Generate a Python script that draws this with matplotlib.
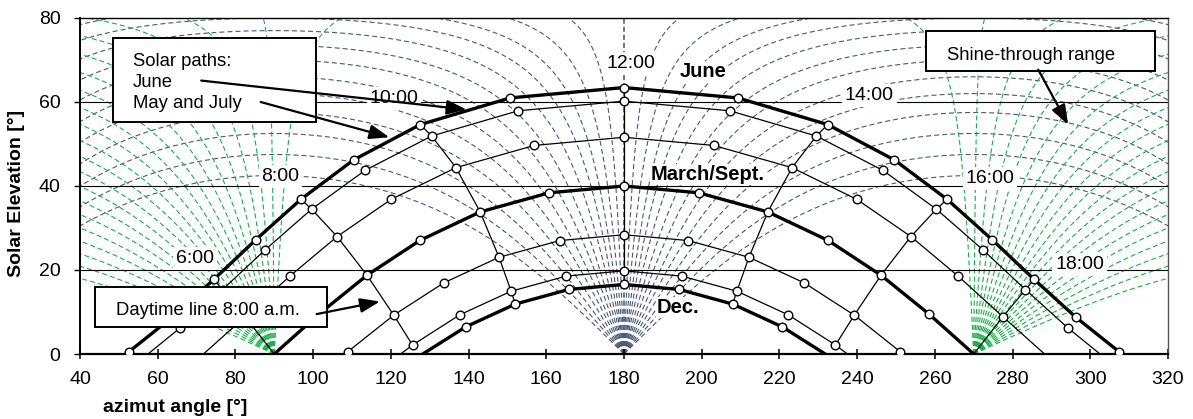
import numpy as np
import matplotlib
matplotlib.use('Agg')
import matplotlib.pyplot as plt
from matplotlib.patches import Rectangle

plt.rcParams['font.family'] = ['Liberation Sans', 'DejaVu Sans']
plt.rcParams['lines.scale_dashes'] = False

# ---------------- data: solar paths (hourly points, solar time) ----------------
june_hours = [4, 5, 6, 7, 8, 9, 10, 11, 12, 13, 14, 15, 16, 17, 18, 19, 20]
june_az = [52.62, 63.72, 74.43, 85.24, 96.87, 110.40, 127.58, 150.69, 180.0,
           209.31, 232.42, 249.60, 263.13, 274.76, 285.57, 296.28, 307.38]
june_el = [0.56, 8.75, 17.74, 27.21, 36.84, 46.20, 54.63, 60.97, 63.44,
           60.97, 54.63, 46.20, 36.84, 27.21, 17.74, 8.75, 0.56]
june_rise_set = [51.77, 308.23]

may_hours = [5, 6, 7, 8, 9, 10, 11, 12, 13, 14, 15, 16, 17, 18, 19]
may_az = [65.77, 76.69, 87.73, 99.60, 113.34, 130.49, 152.79, 180.0,
          207.21, 229.51, 246.66, 260.40, 272.27, 283.31, 294.23]
may_el = [6.22, 15.34, 24.88, 34.48, 43.71, 51.90, 57.91, 60.20,
          57.91, 51.90, 43.71, 34.48, 24.88, 15.34, 6.22]
may_rise_set = [57.50, 302.50]

apr_hours = [6, 7, 8, 9, 10, 11, 12, 13, 14, 15, 16, 17, 18]
apr_az = [82.48, 93.93, 106.17, 120.09, 136.75, 156.93, 180.0,
          203.07, 223.25, 239.91, 253.83, 266.07, 277.52]
apr_el = [8.86, 18.48, 27.96, 36.82, 44.37, 49.66, 51.60,
          49.66, 44.37, 36.82, 27.96, 18.48, 8.86]
apr_rise_set = [71.77, 288.23]

mar_hours = [6, 7, 8, 9, 10, 11, 12, 13, 14, 15, 16, 17, 18]
mar_az = [90.0, 101.60, 113.86, 127.45, 142.99, 160.73, 180.0,
          199.27, 217.01, 232.55, 246.14, 258.40, 270.0]
mar_el = [0.0, 9.58, 18.75, 27.03, 33.83, 38.38, 40.00,
          38.38, 33.83, 27.03, 18.75, 9.58, 0.0]
mar_rise_set = [90.0, 270.0]

feb_hours = [7, 8, 9, 10, 11, 12, 13, 14, 15, 16, 17]
feb_az = [108.87, 120.74, 133.61, 147.84, 163.47, 180.0,
          196.53, 212.16, 226.39, 239.26, 251.13]
feb_el = [0.51, 9.25, 16.93, 23.03, 27.01, 28.40,
          27.01, 23.03, 16.93, 9.25, 0.51]
feb_rise_set = [108.23, 251.77]

jan_hours = [8, 9, 10, 11, 12, 13, 14, 15, 16]
jan_az = [125.58, 137.74, 150.95, 165.16, 180.0, 194.84, 209.05, 222.26, 234.42]
jan_el = [2.13, 9.33, 14.95, 18.55, 19.80, 18.55, 14.95, 9.33, 2.13]
jan_rise_set = [122.50, 237.50]

dec_hours = [9, 10, 11, 12, 13, 14, 15]
dec_az = [139.24, 152.04, 165.74, 180.0, 194.26, 207.96, 220.76]
dec_el = [6.45, 11.89, 15.36, 16.56, 15.36, 11.89, 6.45]
dec_rise_set = [128.23, 231.77]

# daytime lines drawn for these hours
daytime_hours = [6, 8, 10, 12, 14, 16, 18]
daytime_labels = ['6:00', '8:00', '10:00', '12:00', '14:00', '16:00', '18:00']

# background construction lines (tilt angles of the great circles, deg)
blue_tilts = [42.5, 47.5, 52.5, 57.5, 62, 66, 70, 73.5, 77, 80, 82.5, 85,
              87.5, 90]
green_tilts = [23, 26.5, 30, 33.5, 37, 40.5, 44, 47.5, 51, 54.5, 58, 61.5,
               65, 68.5, 72, 75.5, 79, 82.5, 86, 89.5, 93]

# ---------------- figure ----------------
W, H = 1193, 419
fig = plt.figure(figsize=(W / 100, H / 100), dpi=100)
ax = fig.add_axes([80 / W, 1 - 354 / H, (1168 - 80) / W, (354 - 18) / H])
ax.set_xlim(40, 320)
ax.set_ylim(0, 80)

BLUE = '#4a5874'
GREEN = '#14b04a'
DASH = (0, (3.6, 2.2))


def leading_block(az, el):
    ok = (az >= 30) & (az <= 330)
    if not ok[0]:
        return az[:0], el[:0]
    bad = np.where(~ok)[0]
    n = bad[0] if len(bad) else len(az)
    return az[:n], el[:n]


# blue family: great circles through the south point (180, 0)
s = np.radians(np.linspace(0, 180, 2500))
for t in blue_tilts:
    tr = np.radians(t)
    x = np.cos(tr) * np.sin(s)
    y = -np.cos(s)
    z = np.sin(tr) * np.sin(s)
    el = np.degrees(np.arcsin(np.clip(z, -1, 1)))
    az_e = np.degrees(np.arctan2(x, y)) % 360
    for az in (az_e, 360 - az_e):
        a, e = leading_block(az, el)
        ax.plot(a, e, color=BLUE, lw=0.8, ls=DASH, zorder=1)

# green family: great circles through east (90,0) and west (270,0)
s2 = np.radians(np.linspace(0, 90, 1500))
for th in green_tilts:
    tr = np.radians(th)
    y = np.cos(tr) * np.sin(s2)
    z = np.sin(tr) * np.sin(s2)
    el = np.degrees(np.arcsin(np.clip(z, -1, 1)))
    for sign in (1, -1):
        x = sign * np.cos(s2)
        az = np.degrees(np.arctan2(x, y)) % 360
        a, e = leading_block(az, el)
        ax.plot(a, e, color=GREEN, lw=0.8, ls=DASH, zorder=1)

# horizontal grid lines
for g in (20, 40, 60):
    ax.axhline(g, color='black', lw=0.8, zorder=1.5)

paths = [
    (june_hours, june_az, june_el, june_rise_set, 2.4),
    (may_hours, may_az, may_el, may_rise_set, 0.9),
    (apr_hours, apr_az, apr_el, apr_rise_set, 0.9),
    (mar_hours, mar_az, mar_el, mar_rise_set, 2.4),
    (feb_hours, feb_az, feb_el, feb_rise_set, 0.9),
    (jan_hours, jan_az, jan_el, jan_rise_set, 0.9),
    (dec_hours, dec_az, dec_el, dec_rise_set, 2.4),
]

# daytime lines
for hr in daytime_hours:
    pa, pe = [], []
    for hours, az, el, rs, lw in paths:
        if hr in hours:
            i = hours.index(hr)
            pa.append(az[i])
            pe.append(el[i])
    ax.plot(pa, pe, color='black', lw=0.9, zorder=2, solid_capstyle='butt')

# solar paths
for hours, az, el, rs, lw in paths:
    xs = [rs[0]] + list(az) + [rs[1]]
    ys = [0.0] + list(el) + [0.0]
    ax.plot(xs, ys, color='black', lw=lw, zorder=3, solid_joinstyle='miter')
    mk = [(a, e) for a, e in zip(az, el) if e > 0.05]
    ax.plot([m[0] for m in mk], [m[1] for m in mk], ls='none', marker='o',
            ms=6.2, mfc='white', mec='black', mew=1.0, zorder=4)

# hour labels
label_pos = [(69.7, 21.6), (91.6, 41.1), (120.8, 59.7), (181.7, 68.1),
             (243.1, 60.4), (274.2, 40.7), (297.3, 20.2)]
for txt, (lx, ly) in zip(daytime_labels, label_pos):
    ax.text(lx, ly, txt, ha='center', va='baseline', fontsize=14, zorder=5,
            bbox=dict(boxstyle='square,pad=0.15', fc='white', ec='none'))

# month labels
for txt, (lx, ly) in zip(['June', 'March/Sept.', 'Dec.'],
                         [(200.4, 65.9), (201.5, 41.5), (194.0, 9.85)]):
    ax.text(lx, ly, txt, ha='center', va='baseline', fontsize=14.5,
            fontweight='bold', zorder=5,
            bbox=dict(boxstyle='square,pad=0.05', fc='white', ec='none'))

# annotation boxes
boxes = [(48.5, 55.3, 100.7, 75.3), (257.7, 67.3, 316.6, 77.0),
         (43.9, 6.4, 103.6, 15.9)]
for x0, y0, x1, y1 in boxes:
    ax.add_patch(Rectangle((x0, y0), x1 - x0, y1 - y0, fc='white', ec='black',
                           lw=1.4, zorder=6))
ax.text(53.6, 68.5, 'Solar paths:', fontsize=13.3, va='baseline', zorder=7)
ax.text(53.6, 63.6, 'June', fontsize=13.3, va='baseline', zorder=7)
ax.text(53.6, 58.6, 'May and July', fontsize=13.3, va='baseline', zorder=7)
ax.text(284.7, 70.1, 'Shine-through range', fontsize=13.3, ha='center',
        va='baseline', zorder=7)
ax.text(72.9, 9.3, 'Daytime line 8:00 a.m.', fontsize=13.3, ha='center',
        va='baseline', zorder=7)

arrows = [((71.2, 65.1), (139.5, 58.2)), ((86.5, 60.0), (119.6, 51.6)),
          ((286.6, 67.7), (294.3, 54.6)), ((100.9, 9.5), (117.2, 12.5))]
for tail, tip in arrows:
    ax.annotate('', xy=tip, xytext=tail, zorder=8,
                arrowprops=dict(arrowstyle='-|>,head_length=0.6,head_width=0.22',
                                mutation_scale=20, lw=1.6, color='black',
                                shrinkA=0, shrinkB=0))

# axes styling
ax.set_xticks(range(40, 321, 20))
ax.set_yticks(range(0, 81, 20))
ax.tick_params(axis='x', direction='inout', length=7, width=1.1, labelsize=14, pad=9)
ax.tick_params(axis='y', direction='out', length=4, width=1.0, labelsize=14, pad=10)
for side, lw in (('bottom', 1.6), ('left', 1.4), ('top', 1.0), ('right', 1.0)):
    ax.spines[side].set_linewidth(lw)
ax.spines['right'].set_color('#555555')

fig.text(103 / W, 1 - 407 / H, 'azimut angle [°]', ha='left', va='center',
         fontsize=14, fontweight='bold')
fig.text(17 / W, 1 - 193 / H, 'Solar Elevation [°]', rotation=90, ha='center',
         va='center', fontsize=14, fontweight='bold')

fig.savefig('out.png', dpi=100)
